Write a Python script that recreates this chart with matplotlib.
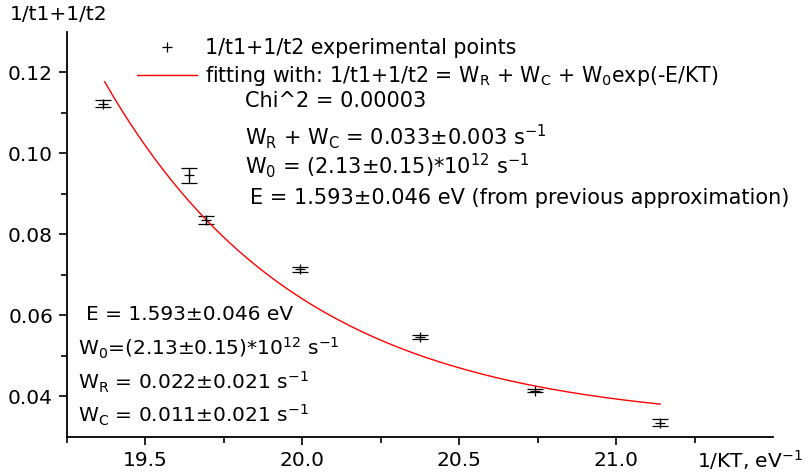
import numpy as np
import matplotlib
matplotlib.use("Agg")
import matplotlib.pyplot as plt
from matplotlib.lines import Line2D

plt.rcParams['font.family'] = ['DejaVu Sans']
plt.rcParams['mathtext.fontset'] = 'dejavusans'

# experimental points
inv_kt = [19.366, 19.638, 19.694, 19.994, 20.376, 20.742, 21.14]
rate = [0.1122, 0.0945, 0.0834, 0.0713, 0.0546, 0.0414, 0.0335]
rate_err = [0.0009, 0.0018, 0.001, 0.0007, 0.0004, 0.0003, 0.0009]

# fit parameters shown on the chart
w_total = 0.033
w0 = 2.13e12
e_act = 1.593
fit_range = [19.37, 21.14]

FS = 14.5
W, H = 808, 475
fig = plt.figure(figsize=(W / 100, H / 100), dpi=100)
ax = fig.add_axes([67 / W, 1 - 436.7 / H, (773 - 67) / W, (436.7 - 31.7) / H])

ax.errorbar(inv_kt, rate, yerr=rate_err, fmt='+', color='k', ms=7, mew=0.9,
            elinewidth=0.9, capsize=6, capthick=0.9)

xf = np.linspace(fit_range[0], fit_range[1], 200)
yf = w_total + w0 * np.exp(-e_act * xf)
ax.plot(xf, yf, color='red', lw=1.0)

ax.set_xlim(19.25, 21.5)
ax.set_ylim(0.03, 0.13)
ax.set_xticks([19.5, 20.0, 20.5, 21.0])
ax.set_xticks([19.25, 19.75, 20.25, 20.75, 21.25], minor=True)
ax.set_yticks([0.04, 0.06, 0.08, 0.10, 0.12])
ax.set_yticks([0.05, 0.07, 0.09, 0.11], minor=True)
ax.set_xticklabels(['19.5', '20.0', '20.5', '21.0'])
ax.set_yticklabels(['0.04', '0.06', '0.08', '0.10', '0.12'])

for s in ['top', 'right']:
    ax.spines[s].set_visible(False)
for s in ['left', 'bottom']:
    ax.spines[s].set_linewidth(1.3)
ax.tick_params(which='major', length=6, width=1.2, labelsize=FS, pad=4)
ax.tick_params(which='minor', length=4, width=1.2)

fig.text(10 / W, 1 - 15 / H, '1/t1+1/t2', fontsize=FS, va='center', ha='left')
fig.text(697 / W, 1 - 460 / H, '1/KT, eV$^{-1}$', fontsize=FS, va='center', ha='left')

handles = [Line2D([], [], marker='+', ls='none', color='k', ms=7, mew=0.9),
           Line2D([], [], color='red', lw=1.0)]
labels = ['1/t1+1/t2 experimental points',
          'fitting with: 1/t1+1/t2 = W$_\\mathrm{R}$ + W$_\\mathrm{C}$ + W$_\\mathrm{0}$exp(-E/KT)']
fig.legend(handles, labels, loc='upper left', bbox_to_anchor=(137 / W, 1 - 38 / H),
           frameon=False, fontsize=14.8, borderpad=0, borderaxespad=0,
           handlelength=2.9, handletextpad=0.4, labelspacing=0.3)

right_lines = [
    (245, 101, 'Chi^2 = 0.00003'),
    (245, 137, 'W$_\\mathrm{R}$ + W$_\\mathrm{C}$ = 0.033±0.003 s$^{-1}$'),
    (245, 166, 'W$_\\mathrm{0}$ = (2.13±0.15)*10$^{12}$ s$^{-1}$'),
    (250, 198, 'E = 1.593±0.046 eV (from previous approximation)'),
]
for px, py, t in right_lines:
    fig.text(px / W, 1 - py / H, t, fontsize=15, va='center', ha='left')

left_lines = [
    (86, 314, 'E = 1.593±0.046 eV'),
    (78, 348, 'W$_\\mathrm{0}$=(2.13±0.15)*10$^{12}$ s$^{-1}$'),
    (78, 382, 'W$_\\mathrm{R}$ = 0.022±0.021 s$^{-1}$'),
    (78, 415, 'W$_\\mathrm{C}$ = 0.011±0.021 s$^{-1}$'),
]
for px, py, t in left_lines:
    fig.text(px / W, 1 - py / H, t, fontsize=FS, va='center', ha='left')

fig.savefig('out.png', dpi=100)
